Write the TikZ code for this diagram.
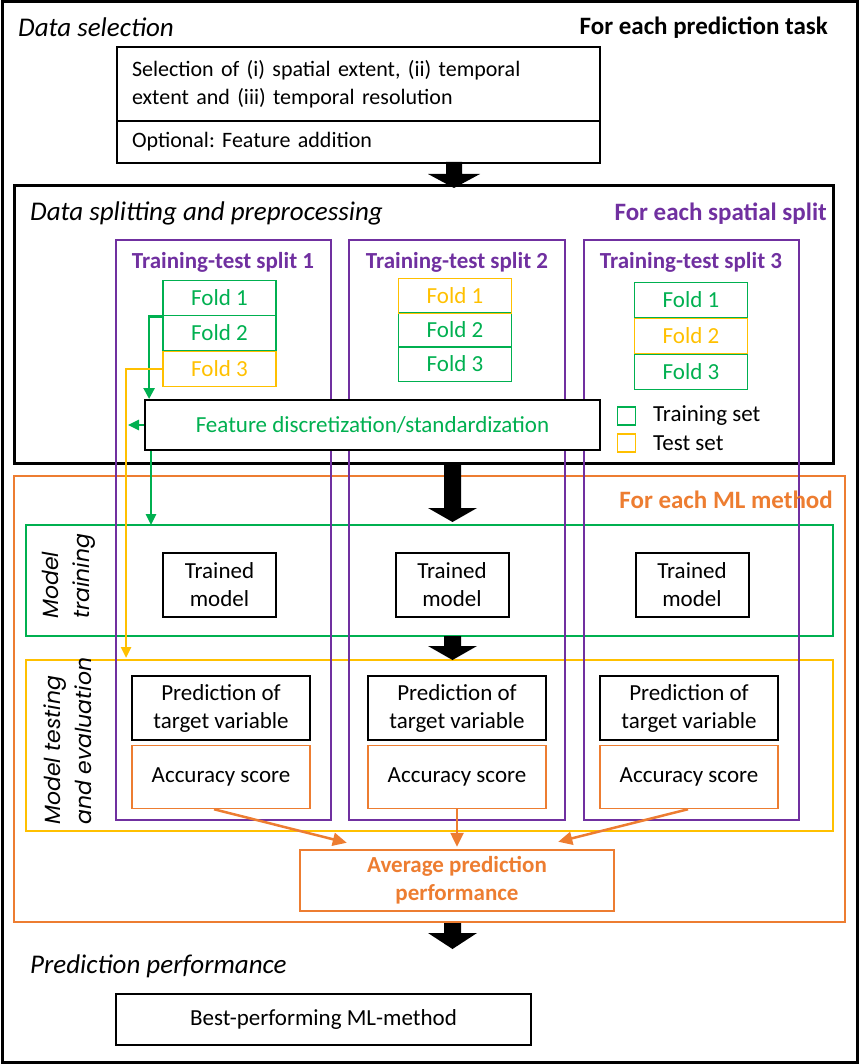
\documentclass[tikz,border=0pt]{standalone}
\usepackage{fontspec}
\setmainfont{Carlito}
\newfontfamily\gothic{Poppins}
\usetikzlibrary{arrows.meta}
\frenchspacing

\definecolor{mlpurple}{RGB}{112,48,160}
\definecolor{mlgreen}{RGB}{0,176,80}
\definecolor{mlgold}{RGB}{255,192,0}
\definecolor{mlorange}{RGB}{237,125,49}

\tikzset{
  every node/.style={font=\fontsize{23}{28}\selectfont},
  region/.style={line width=2.5pt},
  fold/.style={draw=#1, text=#1, line width=1.8pt, minimum width=113pt,
    minimum height=35pt, inner sep=0pt},
  plainbox/.style={draw, line width=2pt, inner sep=0pt, align=center},
  scorebox/.style={draw=mlorange, line width=1.5pt, inner sep=0pt,
    minimum width=178pt, minimum height=63pt},
  title/.style={inner sep=0pt, font=\fontsize{27}{32}\selectfont\itshape},
  headline/.style={inner sep=0pt, font=\fontsize{25}{30}\selectfont\bfseries},
  splitname/.style={inner sep=0pt, text=mlpurple, font=\fontsize{23}{28}\selectfont\bfseries},
  sidelabel/.style={rotate=90, align=left, inner sep=0pt, anchor=north west,
    font=\fontsize{22}{31}\selectfont\gothic\itshape},
  conn/.style={line width=2.5pt, -{Triangle[length=11pt,width=10pt]}},
}

\begin{document}
\begin{tikzpicture}[x=1pt, y=-1pt]
  \useasboundingbox (0,0) rectangle (860,1064);
  % outer frame and regions
  \draw[line width=3pt] (2,2) rectangle (857,1062);
  \draw[line width=3pt] (14,186) rectangle (833,463);
  \draw[region, mlorange] (14,476) rectangle (845,922);
  \draw[region, mlgreen] (26,525) rectangle (833,636);
  \draw[region, mlgold] (26,660) rectangle (833,831);
  \coordinate (trtop) at (0,525);
  \coordinate (tetop) at (0,660);

  % one column per spatial split
  \foreach \xa/\xb in {116/331, 349/565, 584/799}
    \draw[region, mlpurple] (\xa,240) rectangle (\xb,820);

  % data selection
  \node[title, anchor=west] (dsel) at (18,27) {Data selection};
  \node[headline, anchor=east] (task) at (828,28) {For each prediction task};
  \node[plainbox, minimum width=483pt, minimum height=74pt, anchor=north west,
    text width=453pt, align=left, font=\fontsize{22}{28}\selectfont] (select) at (116,46)
    {Selection of (i) spatial extent, (ii) temporal\\extent and (iii) temporal resolution};
  \node[plainbox, minimum width=483pt, minimum height=42pt, anchor=north west,
    text width=453pt, align=left, font=\fontsize{22}{28}\selectfont] (addfeat) at (116,120) {Optional: Feature addition};

  % block arrows
  \fill (446,162) -- (462,162) -- (462,174) -- (480,174) -- (454,188)
    -- (428,174) -- (446,174) -- cycle;
  \fill (444,463) -- (461,463) -- (461,508) -- (477,508) -- (452.5,522)
    -- (428,508) -- (444,508) -- cycle;
  \fill (444,636) -- (461,636) -- (461,646) -- (477,646) -- (452.5,660)
    -- (428,646) -- (444,646) -- cycle;
  \fill (444,923) -- (461,923) -- (461,933) -- (477,933) -- (452.5,949)
    -- (428,933) -- (444,933) -- cycle;

  % data splitting and preprocessing
  \node[title, anchor=west] (dsplit) at (30,213) {Data splitting and preprocessing};
  \node[headline, anchor=east, text=mlpurple] (spat) at (827,214) {For each spatial split};
  \node[splitname] (split1) at (223,262) {Training-test split 1};
  \node[splitname] (split2) at (457,262) {Training-test split 2};
  \node[splitname] (split3) at (691,262) {Training-test split 3};

  % folds
  \node[fold=mlgreen] (s1f1) at (219.5,298) {Fold 1};
  \node[fold=mlgreen] (s1f2) at (219.5,333) {Fold 2};
  \node[fold=mlgold] (s1f3) at (219.5,369) {Fold 3};
  \node[fold=mlgreen] (s2f2) at (455,330) {Fold 2};
  \node[fold=mlgreen] (s2f3) at (455,364) {Fold 3};
  \node[fold=mlgold] (s2f1) at (455,296) {Fold 1};
  \node[fold=mlgreen] (s3f1) at (691,300) {Fold 1};
  \node[fold=mlgreen] (s3f3) at (691,372) {Fold 3};
  \node[fold=mlgold] (s3f2) at (691,336) {Fold 2};

  % legend
  \node[draw=mlgreen, line width=1.8pt, minimum size=18pt, inner sep=0pt] (keytr) at (626.5,416) {};
  \node[anchor=west, inner sep=0pt] (keytrtxt) at (653,416) {Training set};
  \node[draw=mlgold, line width=1.8pt, minimum size=18pt, inner sep=0pt] (keyte) at (626.5,443) {};
  \node[anchor=west, inner sep=0pt] (keytetxt) at (653,443) {Test set};

  \node[plainbox, fill=white, text=mlgreen, minimum width=455pt, minimum height=50pt]
    (feat) at (372.5,425) {Feature discretization/standardization};

  % ML method
  \node[headline, anchor=east, text=mlorange] (mlm) at (833,500) {For each ML method};
  \node[sidelabel] (trlab) at (42,619) {Model\\training};
  \node[sidelabel] (telab) at (44,825) {Model testing\\and evaluation};

  \foreach \n/\x in {1/219.5, 2/452, 3/692}
    \node[plainbox, minimum width=113pt, minimum height=64pt] (trained\n) at (\x,585) {Trained\\model};
  \foreach \n/\x in {1/221, 2/457, 3/689} {
    \node[plainbox, line width=2.5pt, minimum width=178pt, minimum height=64pt]
      (pred\n) at (\x,708) {Prediction of\\target variable};
    \node[scorebox] (acc\n) at (\x,777) {Accuracy score};
  }
  \node[plainbox, draw=mlorange, text=mlorange, line width=2.5pt, minimum width=314pt,
    minimum height=61pt, font=\fontsize{23}{28}\selectfont\bfseries] (avg) at (457,880.5)
    {Average prediction\\performance};

  % prediction performance
  \node[title, anchor=west] (pperf) at (30,966) {Prediction performance};
  \node[plainbox, minimum width=415pt, minimum height=51pt] (best) at (323.5,1019.5)
    {Best-performing ML-method};

  % connectors
  \draw[conn, mlgreen, -{Triangle[length=11pt,width=11pt]}] (s1f1.south west) -- ++(-13,0) coordinate (g1) -- (g1 |- feat.north);
  \draw[conn, mlgreen] (feat.west) -- ++(-16,0);
  \draw[conn, mlgreen] ([xshift=7pt]feat.south west) -- ([xshift=7pt]feat.south west |- trtop);
  \draw[conn, mlgold] (s1f3.west) -- ++(-36,0) coordinate (y1) -- ([yshift=2pt]y1 |- tetop);
  \draw[conn, mlorange, -{Triangle[length=14pt,width=13pt]}] ([xshift=-7pt]acc1.south) -- ([xshift=48pt,yshift=6pt]avg.north west);
  \draw[conn, mlorange, -{Triangle[length=14pt,width=13pt]}] (acc2.south) -- ([yshift=2pt]avg.north);
  \draw[conn, mlorange, -{Triangle[length=14pt,width=13pt]}] ([xshift=-1pt]acc3.south) -- ([xshift=-57pt,yshift=7pt]avg.north east);
\end{tikzpicture}
\end{document}
